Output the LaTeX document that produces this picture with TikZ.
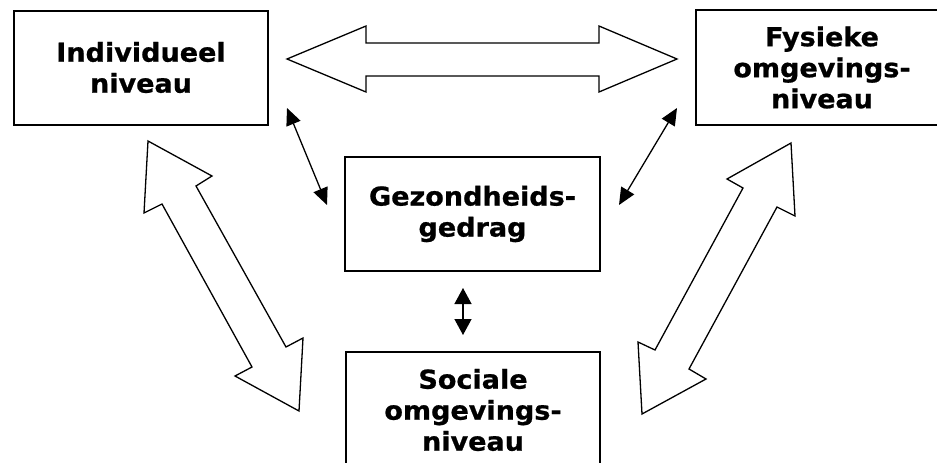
\documentclass[tikz,border=0pt]{standalone}
\usepackage{fontspec}
\setmainfont[FakeStretch=1.04,BoldFeatures={FakeBold=0.8}]{DejaVu Sans}
\usetikzlibrary{arrows.meta}
\begin{document}
\begin{tikzpicture}[x=1pt,y=-1pt,
  box/.style={draw,line width=2pt,inner sep=0pt,align=center,
    font=\fontsize{26}{31}\selectfont\bfseries},
  blockarrow/.style={draw,line width=1.3pt,fill=white,line join=miter},
  thin/.style={line width=1.3pt,{Triangle[length=17pt,width=15pt]}-{Triangle[length=17pt,width=15pt]}}]
\useasboundingbox (0,0) rectangle (937,463);
\clip (0,0) rectangle (937,463);
% boxes
\node[box,minimum width=254pt,minimum height=114pt] (ind) at (141,67.5) {Individueel\\niveau};
\node[box,minimum width=260pt,minimum height=115pt] (fys) at (826,67.5) {\hspace*{-8pt}Fysieke\\\hspace*{-8pt}omgevings-\\\hspace*{-8pt}niveau};
\node[box,minimum width=255pt,minimum height=114pt] (gez) at (472.5,214) {Gezondheids-\\gedrag};
\node[box,minimum width=254pt,minimum height=116pt] (soc) at (473,410) {Sociale\\omgevings-\\niveau};
% block arrows
\draw[blockarrow] (287,59) -- (366,26) -- (366,43) -- (599,43) -- (599,26) -- (677,59)
  -- (599,92) -- (599,76) -- (366,76) -- (366,92) -- cycle;
\draw[blockarrow] (148,141) -- (212,176) -- (196,186) -- (286,347) -- (303,338) -- (299,411)
  -- (235,376) -- (252,367) -- (162,204) -- (144,213) -- cycle;
\draw[blockarrow] (791,143) -- (795,216) -- (777,207) -- (689,369) -- (706,379) -- (642,414)
  -- (638,342) -- (655,350) -- (743,188) -- (727,179) -- cycle;
% thin arrows
\coordinate (a1) at (287,108);
\coordinate (a2) at (327,205);
\coordinate (b1) at (677,108);
\coordinate (b2) at (619,205);
\coordinate (c1) at (463,288);
\coordinate (c2) at (463,335);
\draw[thin] (a1) -- (a2);
\draw[thin] (b1) -- (b2);
\draw[line width=1.3pt,{Triangle[length=16pt,width=17pt]}-{Triangle[length=16pt,width=17pt]}] (c1) -- (c2);
\end{tikzpicture}
\end{document}
